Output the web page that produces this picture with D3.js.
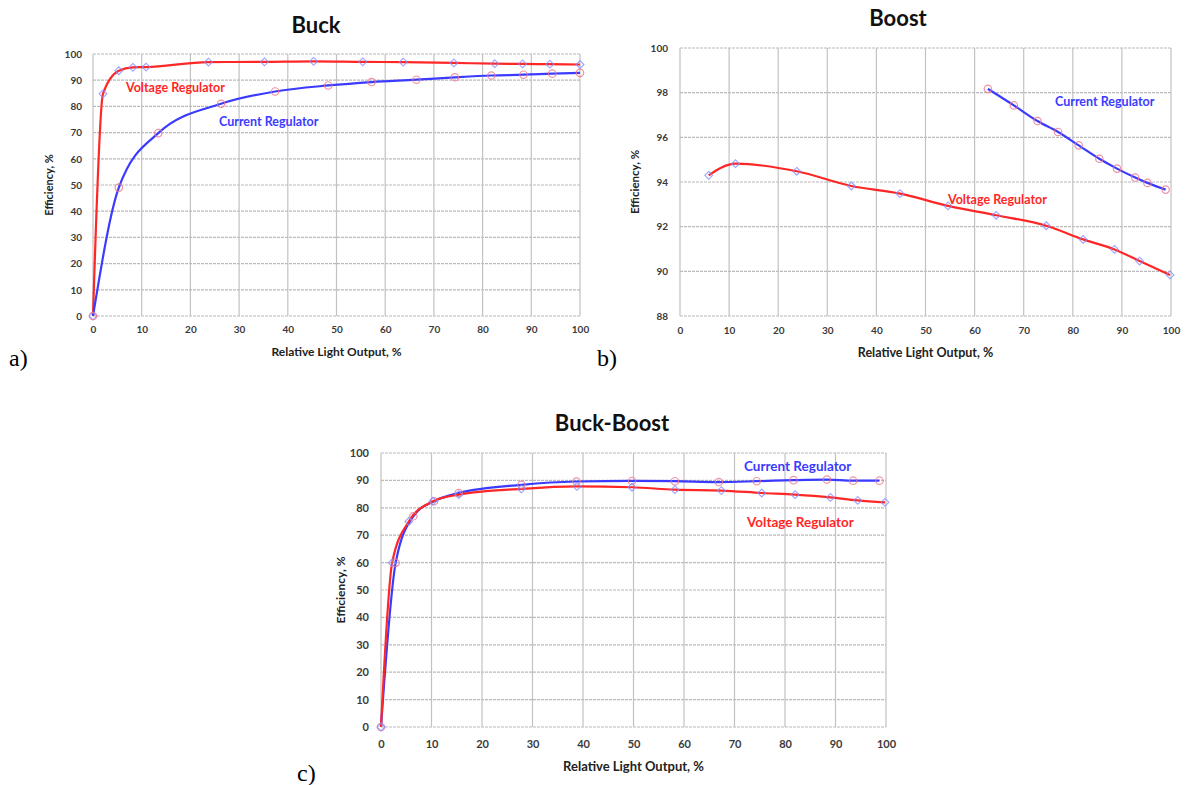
<!DOCTYPE html>
<html>
<head>
<meta charset="utf-8">
<script src="https://cdn.jsdelivr.net/npm/d3@7"></script>
<style>
  html, body { margin: 0; padding: 0; background: #ffffff; }
  svg { display: block; }
</style>
</head>
<body>
<svg id="chart" width="1185" height="785"></svg>
<script>
// ---------- DATA ----------
// Buck
const buckVoltageX = [0, 2.05, 5.3, 8.2, 10.9, 23.7, 35.2, 45.3, 55.4, 63.7, 74.1, 82.5, 88.2, 93.8, 100];
const buckVoltageY = [0, 84.8, 93.6, 94.9, 95.0, 96.9, 97.0, 97.2, 97.0, 96.9, 96.6, 96.3, 96.2, 96.1, 96.0];
const buckCurrentX = [0, 5.3, 13.4, 26.3, 37.4, 48.3, 57.2, 66.4, 74.3, 81.8, 88.4, 94.3, 100];
const buckCurrentY = [0, 49, 69.8, 81, 85.7, 88, 89.3, 90.2, 91.1, 91.8, 92.1, 92.5, 92.8];
// Boost
const boostVoltageX = [5.85, 11.3, 23.8, 34.9, 44.8, 54.6, 64.4, 74.6, 82.1, 88.5, 93.6, 99.8];
const boostVoltageY = [94.30, 94.82, 94.48, 93.82, 93.48, 92.93, 92.51, 92.04, 91.43, 90.98, 90.46, 89.84];
const boostCurrentX = [62.7, 68.0, 72.8, 77.0, 81.2, 85.4, 89.0, 92.7, 95.2, 98.9];
const boostCurrentY = [98.17, 97.43, 96.73, 96.24, 95.64, 95.04, 94.6, 94.2, 93.96, 93.66];
// Buck-Boost
const bbCurrentX = [0, 2.9, 6.4, 10.5, 15.4, 27.8, 38.7, 49.7, 58.2, 66.9, 74.4, 81.7, 88.3, 93.5, 98.7];
const bbCurrentY = [0, 59.9, 76.9, 82.4, 85.4, 88.4, 89.6, 89.8, 89.7, 89.4, 89.7, 90.1, 90.3, 89.9, 89.9];
const bbVoltageX = [0, 2.2, 5.5, 10.3, 15.4, 27.8, 38.8, 49.7, 58.2, 67.4, 75.4, 82, 89, 94.4, 99.8];
const bbVoltageY = [0, 59.9, 75, 82.4, 84.8, 86.9, 87.8, 87.5, 86.6, 86.3, 85.4, 84.8, 83.8, 82.7, 82];

// Tick labels
const xTicks = [0, 10, 20, 30, 40, 50, 60, 70, 80, 90, 100];
const yTicksPct = [0, 10, 20, 30, 40, 50, 60, 70, 80, 90, 100];
const yTicksBoost = [88, 90, 92, 94, 96, 98, 100];

// Text
const titles = ["Buck", "Boost", "Buck-Boost"];
const panelLetters = ["a)", "b)", "c)"];
const xAxisTitle = "Relative Light Output, %";
const yAxisTitle = "Efficiency, %";
const seriesNames = ["Voltage Regulator", "Current Regulator"];

// ---------- DRAW ----------
const RED = "#ff2626";
const BLUE = "#3b3bff";
const MARK_RED = "rgba(235,120,140,0.8)";
const MARK_BLUE = "rgba(130,140,255,0.8)";
const FONT = "Lato, 'Open Sans', sans-serif";
const svg = d3.select("#chart");

function zip(xs, ys) { return xs.map((x, i) => [x, ys[i]]); }

function panel(cfg) {
  const g = svg.append("g");
  const x = d3.scaleLinear().domain([0, 100]).range([cfg.x0, cfg.x1]);
  const y = d3.scaleLinear().domain(cfg.yDomain).range([cfg.y0, cfg.y1]);

  // gridlines
  g.append("g").selectAll("line.h").data(cfg.yTicks).join("line")
    .attr("x1", cfg.x0).attr("x2", cfg.x1)
    .attr("y1", d => y(d)).attr("y2", d => y(d))
    .attr("stroke", "#bababa").attr("stroke-width", 1.2)
    .attr("stroke-dasharray", "3,1");
  g.append("g").selectAll("line.v").data(xTicks).join("line")
    .attr("x1", d => x(d)).attr("x2", d => x(d))
    .attr("y1", cfg.y0).attr("y2", cfg.y1)
    .attr("stroke", "#c2c2c2").attr("stroke-width", 1.2);

  // axes (labels only, via d3 axes)
  const xa = g.append("g").attr("transform", `translate(0,${cfg.y0})`)
    .call(d3.axisBottom(x).tickValues(xTicks).tickSize(0).tickPadding(cfg.xPad));
  const ya = g.append("g").attr("transform", `translate(${cfg.x0},0)`)
    .call(d3.axisLeft(y).tickValues(cfg.yTicks).tickSize(0).tickPadding(cfg.yPad));
  [xa, ya].forEach(a => {
    a.select(".domain").remove();
    a.selectAll("text").attr("font-family", FONT).attr("font-weight", "bold")
      .attr("font-size", cfg.tickFs).attr("fill", "#3a3a3a");
  });

  // lines
  const line = d3.line().x(d => x(d[0])).y(d => y(d[1])).curve(d3.curveMonotoneX);
  cfg.series.forEach(s => {
    g.append("path").datum(zip(s.xs, s.ys))
      .attr("d", line).attr("fill", "none")
      .attr("stroke", s.color).attr("stroke-width", 2.2);
  });
  // markers
  cfg.series.forEach(s => {
    const pts = zip(s.xs, s.ys);
    if (s.marker === "circle") {
      g.append("g").selectAll("circle").data(pts).join("circle")
        .attr("cx", d => x(d[0])).attr("cy", d => y(d[1])).attr("r", 3.7)
        .attr("fill", "none").attr("stroke", MARK_RED).attr("stroke-width", 1.2);
    } else {
      g.append("g").selectAll("path").data(pts).join("path")
        .attr("transform", d => `translate(${x(d[0])},${y(d[1])}) rotate(45)`)
        .attr("d", d3.symbol(d3.symbolSquare, 30))
        .attr("fill", "none").attr("stroke", MARK_BLUE).attr("stroke-width", 1.1);
    }
  });

  // series labels
  cfg.labels.forEach(l => {
    g.append("text").attr("x", l.x).attr("y", l.y)
      .attr("font-family", FONT).attr("font-weight", "bold")
      .attr("font-size", l.fs).attr("fill", l.color).text(l.text);
  });

  // title
  g.append("text").attr("x", cfg.titleX).attr("y", cfg.titleY)
    .attr("text-anchor", "middle").attr("font-family", FONT)
    .attr("font-weight", "bold").attr("font-size", 22).attr("fill", "#111")
    .text(cfg.title);
  // axis titles
  g.append("text").attr("x", (cfg.x0 + cfg.x1) / 2).attr("y", cfg.xTitleY)
    .attr("text-anchor", "middle").attr("font-family", FONT)
    .attr("font-weight", "bold").attr("font-size", cfg.axFs).attr("fill", "#222")
    .text(xAxisTitle);
  g.append("text")
    .attr("transform", `translate(${cfg.yTitleX},${(cfg.y0 + cfg.y1) / 2}) rotate(-90)`)
    .attr("text-anchor", "middle").attr("font-family", FONT)
    .attr("font-weight", "bold").attr("font-size", cfg.axFs - 1).attr("fill", "#222")
    .text(yAxisTitle);
  // panel letter
  g.append("text").attr("x", cfg.letterX).attr("y", cfg.letterY)
    .attr("font-family", "'Liberation Serif', 'DejaVu Serif', serif")
    .attr("font-size", 24).attr("fill", "#000").text(cfg.letter);
}

panel({
  x0: 93, x1: 580, y0: 316, y1: 54, yDomain: [0, 100], yTicks: yTicksPct,
  xPad: 10, yPad: 11, tickFs: 10, axFs: 12,
  title: titles[0], titleX: 316, titleY: 33, xTitleY: 356, yTitleX: 53,
  letter: panelLetters[0], letterX: 9, letterY: 366,
  series: [
    { xs: buckVoltageX, ys: buckVoltageY, color: RED, marker: "diamond" },
    { xs: buckCurrentX, ys: buckCurrentY, color: BLUE, marker: "circle" }
  ],
  labels: [
    { text: seriesNames[0], x: 126, y: 92, color: RED, fs: 12.5 },
    { text: seriesNames[1], x: 219, y: 126, color: BLUE, fs: 12.5 }
  ]
});

panel({
  x0: 680, x1: 1171, y0: 316, y1: 48, yDomain: [88, 100], yTicks: yTicksBoost,
  xPad: 11, yPad: 12, tickFs: 10, axFs: 12.5,
  title: titles[1], titleX: 898, titleY: 26, xTitleY: 357, yTitleX: 639,
  letter: panelLetters[1], letterX: 597, letterY: 366,
  series: [
    { xs: boostVoltageX, ys: boostVoltageY, color: RED, marker: "diamond" },
    { xs: boostCurrentX, ys: boostCurrentY, color: BLUE, marker: "circle" }
  ],
  labels: [
    { text: seriesNames[1], x: 1055, y: 106, color: BLUE, fs: 12.5 },
    { text: seriesNames[0], x: 948, y: 204, color: RED, fs: 12.5 }
  ]
});

panel({
  x0: 381, x1: 886, y0: 727, y1: 453, yDomain: [0, 100], yTicks: yTicksPct,
  xPad: 13, yPad: 12, tickFs: 11, axFs: 13,
  title: titles[2], titleX: 612, titleY: 431, xTitleY: 771, yTitleX: 345,
  letter: panelLetters[2], letterX: 297, letterY: 781,
  series: [
    { xs: bbCurrentX, ys: bbCurrentY, color: BLUE, marker: "circle" },
    { xs: bbVoltageX, ys: bbVoltageY, color: RED, marker: "diamond" }
  ],
  labels: [
    { text: seriesNames[1], x: 744, y: 471, color: BLUE, fs: 13.5 },
    { text: seriesNames[0], x: 747, y: 527, color: RED, fs: 13.5 }
  ]
});
</script>
</body>
</html>
